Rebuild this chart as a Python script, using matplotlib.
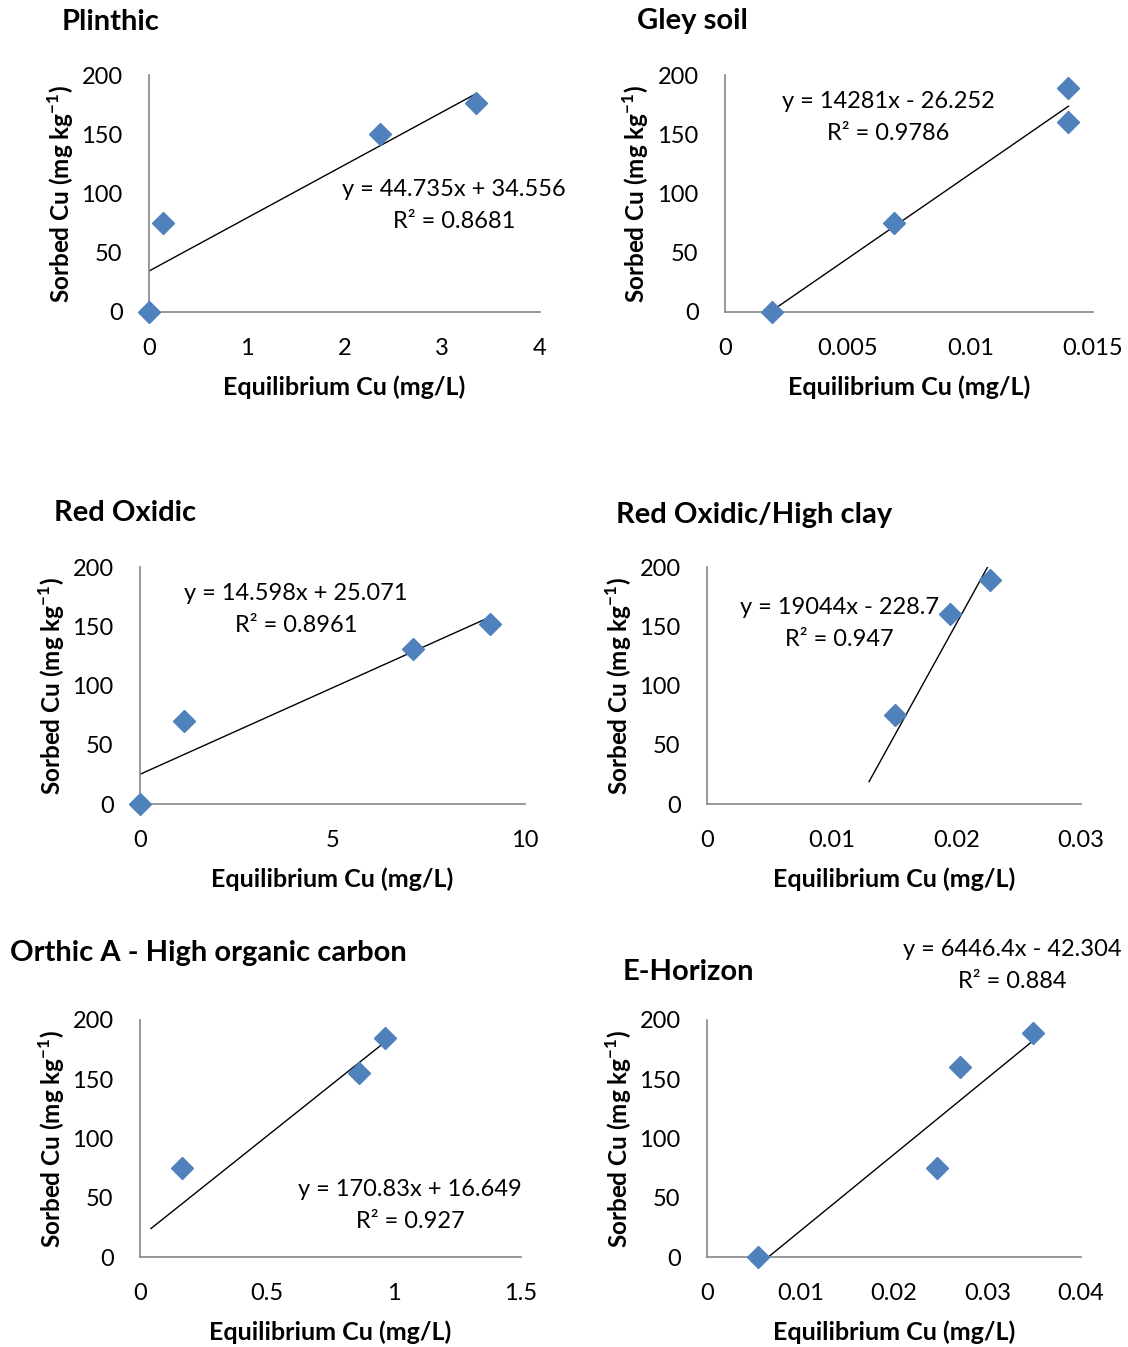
import matplotlib
matplotlib.use("Agg")
import matplotlib.pyplot as plt
import numpy as np

plt.rcParams['font.family'] = ['Lato', 'DejaVu Sans']
plt.rcParams['mathtext.fontset'] = 'custom'
plt.rcParams['mathtext.rm'] = 'Lato'
plt.rcParams['mathtext.bf'] = 'Lato:bold'

W, H = 1128, 1347

# sorption data per soil
titles = ["Plinthic", "Gley soil", "Red Oxidic", "Red Oxidic/High clay",
          "Orthic A - High organic carbon", "E-Horizon"]

plinthic_x = [0.0, 0.14, 2.36, 3.35]
plinthic_y = [0, 75, 150, 176]
gley_x = [0.0019, 0.0069, 0.0140, 0.0140]
gley_y = [0, 75, 189, 160]
red_x = [0.0, 1.14, 7.09, 9.09]
red_y = [0, 70, 131, 152]
clay_x = [0.0151, 0.0195, 0.0227]
clay_y = [75, 160, 189]
orthic_x = [0.165, 0.862, 0.965]
orthic_y = [75, 155, 185]
ehor_x = [0.00545, 0.0246, 0.0271, 0.0349]
ehor_y = [0, 75, 160, 189]

# linear trendlines (slope, intercept, r2) and x-range of each fit
slopes = [44.735, 14281, 14.598, 19044, 170.83, 6446.4]
intercepts = [34.556, -26.252, 25.071, -228.7, 16.649, -42.304]
r2 = ["0.8681", "0.9786", "0.8961", "0.947", "0.927", "0.884"]
trend_ranges = [(0.0, 3.35), (0.0019, 0.0140), (0.0, 9.09),
                (0.0130, 0.0227), (0.043, 0.965), (0.00545, 0.0349)]

xticks = [[0, 1, 2, 3, 4], [0, 0.005, 0.01, 0.015], [0, 5, 10],
          [0, 0.01, 0.02, 0.03], [0, 0.5, 1, 1.5], [0, 0.01, 0.02, 0.03, 0.04]]
xticklabels = [["0", "1", "2", "3", "4"], ["0", "0.005", "0.01", "0.015"],
               ["0", "5", "10"], ["0", "0.01", "0.02", "0.03"],
               ["0", "0.5", "1", "1.5"], ["0", "0.01", "0.02", "0.03", "0.04"]]
yticks = [0, 50, 100, 150, 200]

xs = [plinthic_x, gley_x, red_x, clay_x, orthic_x, ehor_x]
ys = [plinthic_y, gley_y, red_y, clay_y, orthic_y, ehor_y]

# layout in pixels: axes box (left, right, top, bottom), title pos, eq pos, ylabel x, xlabel y
boxes = [(149, 540, 75, 312), (725, 1093, 75, 312), (140, 525, 567, 804),
         (707, 1081, 567, 804), (140, 521, 1020, 1257), (707, 1081, 1020, 1257)]
title_pos = [(62, 22), (637, 21), (54, 513), (616, 515), (10, 953), (623, 972)]
eq_pos = [(454, 189), (888, 101), (296, 593), (839, 607), (410, 1190), (1012, 950)]
ylab_x = [61, 636, 52, 619, 52, 619]
xlab_y = [387, 387, 879, 879, 1332, 1332]

blue = '#4F81BD'
axis_gray = '#868686'

fig = plt.figure(figsize=(W / 100, H / 100), dpi=100)


def fx(x):
    return x / W


def fy(y):
    return 1 - y / H


for i in range(6):
    l, r, t, b = boxes[i]
    ax = fig.add_axes([fx(l), fy(b), (r - l) / W, (b - t) / H])
    lo, hi = xticks[i][0], xticks[i][-1]
    ax.set_xlim(lo, hi)
    ax.set_ylim(0, 200)

    tx = np.array(trend_ranges[i])
    ax.plot(tx, slopes[i] * tx + intercepts[i], color='black', lw=1.0, zorder=2)
    ax.plot(xs[i], ys[i], linestyle='none', marker='D', ms=11, color=blue,
            clip_on=False, zorder=3)

    for s in ['top', 'right']:
        ax.spines[s].set_visible(False)
    for s in ['left', 'bottom']:
        ax.spines[s].set_color(axis_gray)
        ax.spines[s].set_linewidth(1.2)
    ax.set_xticks(xticks[i])
    ax.set_xticklabels(xticklabels[i])
    ax.set_yticks(yticks)
    ax.tick_params(length=0, labelsize=17, colors='black')
    ax.tick_params(axis='x', pad=18.5)
    ax.tick_params(axis='y', pad=19)

    cx = (l + r) / 2
    cy = (t + b) / 2
    fig.text(fx(cx), fy(xlab_y[i]), "Equilibrium Cu (mg/L)", ha='center',
             va='center', fontsize=18, fontweight='bold')
    fig.text(fx(ylab_x[i]), fy(cy), r"Sorbed Cu (mg kg$^{\mathbf{-1}}$)",
             ha='center', va='center', rotation=90, fontsize=17.5,
             fontweight='bold')
    fig.text(fx(title_pos[i][0]), fy(title_pos[i][1]), titles[i], ha='left',
             va='center', fontsize=21, fontweight='bold')

    sign = '+' if intercepts[i] >= 0 else '-'
    eq = "y = {:g}x {} {:g}".format(slopes[i], sign, abs(intercepts[i]))
    ex, ey = eq_pos[i]
    fig.text(fx(ex), fy(ey), eq, ha='center', va='center', fontsize=17)
    fig.text(fx(ex), fy(ey + 32), "R² = " + r2[i], ha='center', va='center',
             fontsize=17)

fig.savefig("out.png", dpi=100, facecolor='white')
